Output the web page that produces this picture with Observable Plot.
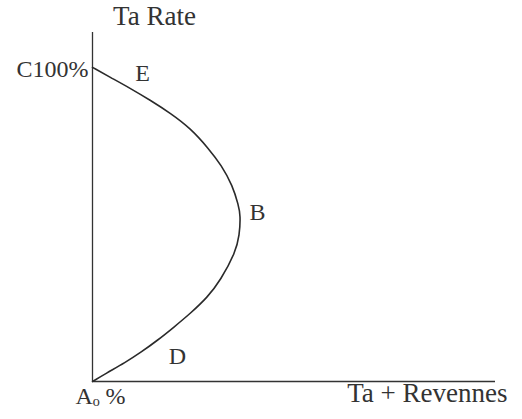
<!DOCTYPE html>
<html>
<head>
<meta charset="utf-8">
<script src="https://cdn.jsdelivr.net/npm/d3@7"></script>
<script src="https://cdn.jsdelivr.net/npm/@observablehq/plot@0.6"></script>
<style>
  html, body { margin: 0; padding: 0; background: #fff; }
</style>
</head>
<body>
<div id="chart"></div>
<script>
// Laffer curve: tax rate (y, %) versus tax revenue (x, arbitrary units)
const taxRate = [0, 2.5, 6.1, 9.2, 13.1, 17.2, 21.7, 26.8, 32.2, 41.1, 46.5, 52.9, 56.1, 62.4, 68.8, 74.2, 80.6, 85.4, 89.5, 93.3, 96.8, 100];
const revenue = [0, 13, 33, 48, 65, 81, 98, 115, 128, 143, 147, 148, 146, 140, 129, 116, 98, 78, 58, 38, 18, 0];
const pointLabels = ["", "", "", "", "", "", "", "", "", "", "", "B", "", "", "", "", "", "", "", "E", "", ""];
const yTickValues = [100];
const yTickLabels = ["C100%"];
const xTickValues = [0];
const xTickLabels = ["A\u2092 %"];
const yTitle = "Ta Rate";
const xTitle = "Ta + Revennes";

const data = taxRate.map((r, i) => ({rate: r, rev: revenue[i], label: pointLabels[i]}));
// D sits just below the rising branch, near the 13% point
const dData = data.filter(d => d.rate === 13.1).map(d => ({...d, label: "D"}));
const labelOffsets = {B: [17, -3], E: [12, -15]};

const ink = "#333";
const chart = Plot.plot({
  width: 522,
  height: 419,
  marginLeft: 92,
  marginRight: 27,
  marginTop: 32,
  marginBottom: 38,
  style: {fontFamily: "'Liberation Serif', 'DejaVu Serif', serif", fontSize: "24px", color: ink, background: "#fff"},
  x: {domain: [0, 403], axis: null},
  y: {domain: [0, 111.1], axis: null},
  marks: [
    Plot.ruleX([0], {stroke: ink, strokeWidth: 1.3}),
    Plot.ruleY([0], {stroke: ink, strokeWidth: 1.3}),
    Plot.line(data, {x: "rev", y: "rate", curve: "basis", stroke: "#2a2a2a", strokeWidth: 1.6}),
    ...Object.entries(labelOffsets).map(([lab, [dx, dy]]) =>
      Plot.text(data.filter(d => d.label === lab), {x: "rev", y: "rate", text: "label", dx, dy, fontSize: 24, fill: ink})
    ),
    Plot.text(dData, {x: "rev", y: "rate", text: "label", dx: 20, dy: 16, fontSize: 24, fill: ink}),
    Plot.axisY({ticks: yTickValues, tickFormat: (d) => yTickLabels[yTickValues.indexOf(d)], tickSize: 0, tickPadding: 4, dy: 2, fontSize: 24, label: null, fill: ink}),
    Plot.axisX({ticks: xTickValues, tickFormat: (d) => xTickLabels[xTickValues.indexOf(d)], tickSize: 0, tickPadding: 5, dx: 8, fontSize: 24, label: null, fill: ink}),
    Plot.text([yTitle], {frameAnchor: "top-left", textAnchor: "middle", lineAnchor: "bottom", dx: 62, dy: -8, fontSize: 27, fill: ink}),
    Plot.text([xTitle], {frameAnchor: "bottom-right", textAnchor: "end", lineAnchor: "top", dx: 12, dy: 1, fontSize: 27, fill: ink})
  ]
});
document.getElementById("chart").appendChild(chart);
</script>
</body>
</html>
